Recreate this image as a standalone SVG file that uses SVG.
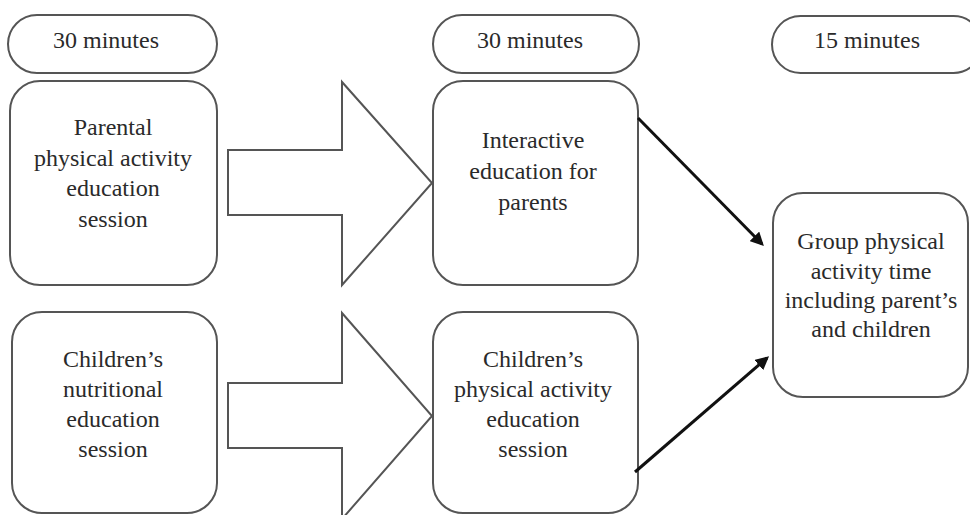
<svg xmlns="http://www.w3.org/2000/svg" width="970" height="515" viewBox="0 0 970 515">
<defs>
<style>
.shape{fill:#fff;stroke:#555;stroke-width:2}
.t{font-family:"Liberation Serif","Times New Roman",serif;font-size:24px;fill:#2a2a2a;text-anchor:middle}
.conn{stroke:#111;stroke-width:3;fill:none;marker-end:url(#ah)}
</style>
<marker id="ah" viewBox="0 0 10 10" refX="8" refY="5" markerWidth="4.5" markerHeight="4.5" orient="auto" markerUnits="strokeWidth">
<path d="M0,0 L10,5 L0,10 z" fill="#111"/>
</marker>
</defs>
<rect width="970" height="515" fill="#fff"/>
<g id="pill1"><rect class="shape" x="8" y="15" width="209" height="58" rx="29"/><text class="t" x="106" y="48">30 minutes</text></g>
<g id="pill2"><rect class="shape" x="433" y="15" width="206" height="58" rx="29"/><text class="t" x="530" y="48">30 minutes</text></g>
<g id="pill3"><rect class="shape" x="772" y="16" width="210" height="57" rx="28.5"/><text class="t" x="867" y="48">15 minutes</text></g>
<g id="box1"><rect class="shape" x="10" y="81" width="207" height="204" rx="30"/>
<text class="t" x="113" y="135">Parental</text><text class="t" x="113" y="166">physical activity</text><text class="t" x="113" y="196">education</text><text class="t" x="113" y="227">session</text></g>
<g id="box2"><rect class="shape" x="433" y="81" width="205" height="204" rx="30"/>
<text class="t" x="533" y="148">Interactive</text><text class="t" x="533" y="179">education for</text><text class="t" x="533" y="210">parents</text></g>
<g id="box3"><rect class="shape" x="773" y="193" width="195" height="204" rx="30"/>
<text class="t" x="871" y="249">Group physical</text><text class="t" x="871" y="279">activity time</text><text class="t" x="871" y="308">including parent’s</text><text class="t" x="871" y="337">and children</text></g>
<g id="box4"><rect class="shape" x="12" y="312" width="205" height="201" rx="30"/>
<text class="t" x="113" y="367">Children’s</text><text class="t" x="113" y="397">nutritional</text><text class="t" x="113" y="427">education</text><text class="t" x="113" y="457">session</text></g>
<g id="box5"><rect class="shape" x="433" y="312" width="205" height="201" rx="30"/>
<text class="t" x="533" y="367">Children’s</text><text class="t" x="533" y="397">physical activity</text><text class="t" x="533" y="427">education</text><text class="t" x="533" y="457">session</text></g>
<g id="blockarrow1"><path class="shape" d="M228,150 H342 V82 L432,183 L342,285 V215 H228 Z"/></g>
<g id="blockarrow2"><path class="shape" d="M228,383 H342 V313 L432,416 L342,519 V448 H228 Z"/></g>
<g id="connectors">
<line class="conn" x1="638" y1="118" x2="762" y2="244"/>
<line class="conn" x1="635" y1="472" x2="767" y2="358"/>
</g>
</svg>
